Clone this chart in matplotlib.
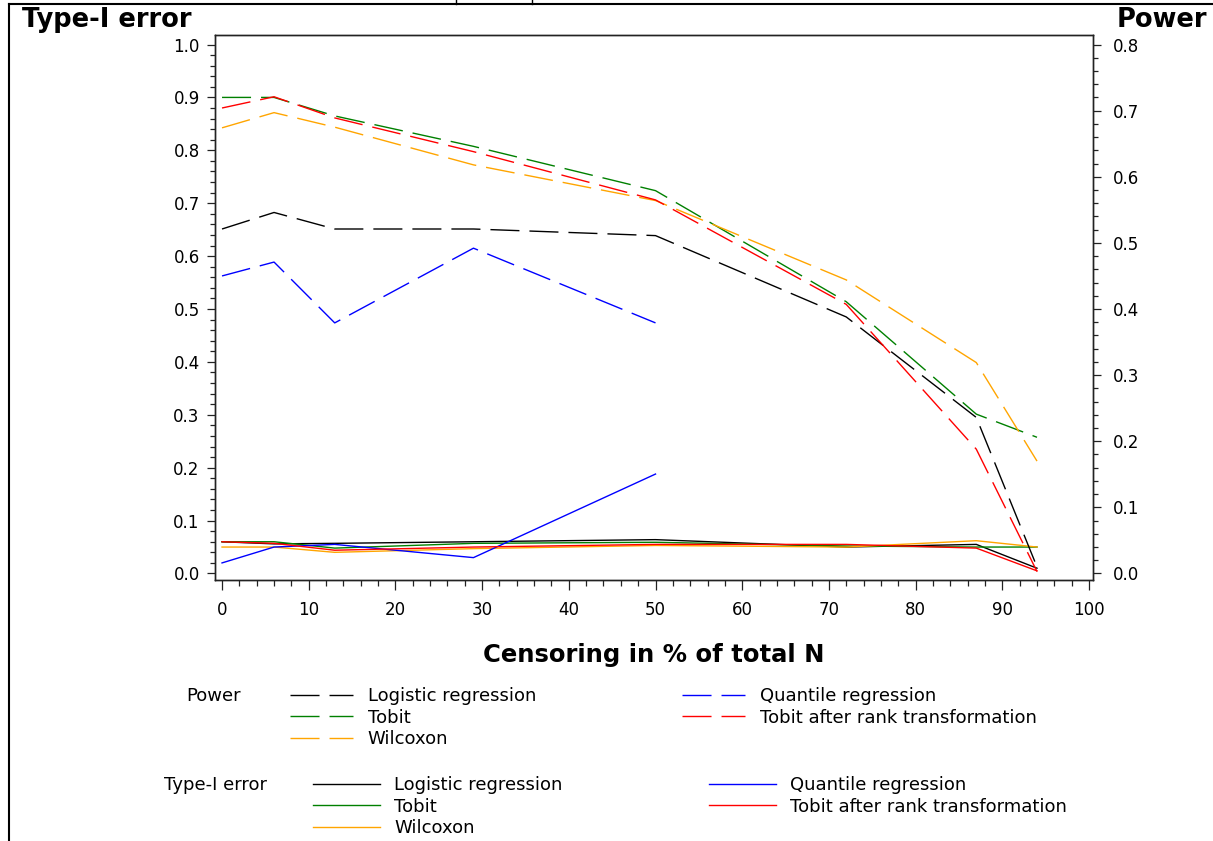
import matplotlib.pyplot as plt
from matplotlib.lines import Line2D
from matplotlib.ticker import MultipleLocator, FormatStrFormatter

# censoring levels (% of total N)
censoring = [0, 6, 13, 29, 50, 72, 87, 94]
censoring_qr = [0, 6, 13, 29, 50]

# power (right axis)
power_logistic = [0.521, 0.546, 0.521, 0.521, 0.511, 0.388, 0.236, 0.010]
power_tobit = [0.720, 0.720, 0.692, 0.646, 0.579, 0.411, 0.241, 0.206]
power_wilcoxon = [0.674, 0.697, 0.675, 0.618, 0.564, 0.444, 0.319, 0.170]
power_quantile = [0.450, 0.471, 0.379, 0.492, 0.379]
power_rank = [0.704, 0.721, 0.689, 0.638, 0.565, 0.407, 0.188, 0.003]

# type-I error (left axis)
t1_logistic = [0.060, 0.056, 0.057, 0.060, 0.064, 0.050, 0.055, 0.010]
t1_tobit = [0.060, 0.060, 0.048, 0.057, 0.059, 0.052, 0.050, 0.050]
t1_wilcoxon = [0.050, 0.050, 0.040, 0.047, 0.053, 0.050, 0.062, 0.050]
t1_quantile = [0.020, 0.050, 0.055, 0.030, 0.188]
t1_rank = [0.060, 0.057, 0.044, 0.050, 0.055, 0.055, 0.048, 0.005]

methods = ["Logistic regression", "Tobit", "Wilcoxon",
           "Quantile regression", "Tobit after rank transformation"]
colors = ["black", "#008000", "#FFA500", "#0000FF", "#FF0000"]

plt.rcParams["font.family"] = "DejaVu Sans"

W, H = 1213, 841
fig = plt.figure(figsize=(W / 100, H / 100), dpi=100)
ax = fig.add_axes([215 / W, 1 - 580 / H, (1093 - 215) / W, (580 - 35) / H])
ax2 = ax.twinx()

dash = (20.9, 7.2)
t1_series = [(censoring, t1_logistic), (censoring, t1_tobit), (censoring, t1_wilcoxon),
             (censoring_qr, t1_quantile), (censoring, t1_rank)]
pw_series = [(censoring, power_logistic), (censoring, power_tobit), (censoring, power_wilcoxon),
             (censoring_qr, power_quantile), (censoring, power_rank)]

t1_lines = []
for (xs, ys), c in zip(t1_series, colors):
    ln, = ax.plot(xs, ys, color=c, lw=1.0)
    t1_lines.append(ln)

pw_lines = []
for (xs, ys), c in zip(pw_series, colors):
    ln, = ax2.plot(xs, ys, color=c, lw=1.0, dashes=dash)
    pw_lines.append(ln)

ax.set_xlim(-0.81, 100.46)
ax.set_ylim(-0.0123, 1.018)
ax2.set_ylim(-0.0123 * 0.8, 1.018 * 0.8)

ax.xaxis.set_major_locator(MultipleLocator(10))
ax.xaxis.set_minor_locator(MultipleLocator(2))
ax.yaxis.set_major_locator(MultipleLocator(0.1))
ax.yaxis.set_minor_locator(MultipleLocator(0.02))
ax.yaxis.set_major_formatter(FormatStrFormatter("%.1f"))
ax2.yaxis.set_major_locator(MultipleLocator(0.1))
ax2.yaxis.set_minor_locator(MultipleLocator(0.02))
ax2.yaxis.set_major_formatter(FormatStrFormatter("%.1f"))

for a in (ax, ax2):
    for s in a.spines.values():
        s.set_linewidth(1.0)
        s.set_color("#222222")
    a.tick_params(which="major", length=6, width=0.9, labelsize=12, pad=5, color="#222222")
    a.tick_params(which="minor", length=3.6, width=0.9, color="#222222")
ax.tick_params(axis="x", which="major", length=7.2, pad=8)
ax.tick_params(axis="x", which="minor", length=4.3)
ax2.tick_params(axis="y", which="major", pad=8)

ax.set_xlabel("Censoring in % of total N", fontsize=17.5, fontweight="bold", labelpad=17)

fig.text(22 / W, 1 - 27 / H, "Type-I error", fontsize=18.5, fontweight="bold", va="baseline")
fig.text(1207 / W, 1 - 27 / H, "Power", fontsize=18.5, fontweight="bold", va="baseline", ha="right")

# legends
leg_kw = dict(ncol=2, frameon=False, fontsize=13, loc="upper left",
              borderpad=0, borderaxespad=0, labelspacing=0.2,
              handletextpad=0.8, columnspacing=8.1)
fig.legend(pw_lines, methods, bbox_to_anchor=(290 / W, 1 - 687 / H),
           handlelength=3.5, **leg_kw)
fig.legend(t1_lines, methods, bbox_to_anchor=(313 / W, 1 - 776 / H),
           handlelength=3.7, **leg_kw)
fig.text(186 / W, 1 - 696 / H, "Power", fontsize=13, va="center")
fig.text(164 / W, 1 - 785 / H, "Type-I error", fontsize=13, va="center")

# page border
fig.add_artist(Line2D([8.5 / W, 1], [1 - 4 / H, 1 - 4 / H], color="black", lw=1.5))
fig.add_artist(Line2D([8.5 / W, 8.5 / W], [0, 1 - 4 / H], color="black", lw=1.5))
for xp in (456, 532):
    fig.add_artist(Line2D([xp / W, xp / W], [1 - 4 / H, 1], color="black", lw=1.0))

fig.savefig("out.png", dpi=100)
